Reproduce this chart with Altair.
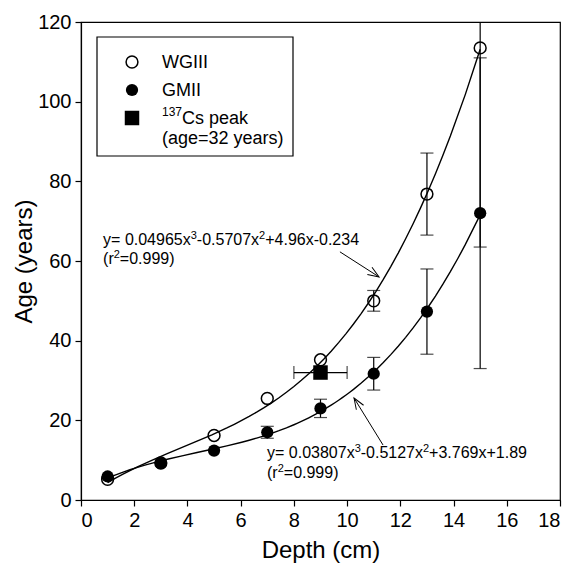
import altair as alt
import pandas as pd

# ---- data ----
depth = [1, 3, 5, 7, 9, 11, 13, 15]
wg_age = [5.2, 9.3, 16.2, 25.5, 35.2, 50.0, 76.8, 113.5]
wg_err = [0, 0, 0, 0, 0, 2.6, 10.3, 50.0]
gm_age = [5.9, 9.2, 12.4, 17.0, 23.0, 31.7, 47.3, 72.0]
gm_err = [0, 0, 0, 1.5, 2.3, 4.1, 10.7, 39.0]
cs_depth = [9]
cs_age = [32]
cs_xerr = [1.0]

# equation labels: list of (text, is_superscript) pieces, anchored at (x, y) baseline
eq_parts = [
    [("y= 0.04965x", 0), ("3", 1), ("-0.5707x", 0), ("2", 1), ("+4.96x-0.234", 0)],
    [("(r", 0), ("2", 1), ("=0.999)", 0)],
    [("y= 0.03807x", 0), ("3", 1), ("-0.5127x", 0), ("2", 1), ("+3.769x+1.89", 0)],
    [("(r", 0), ("2", 1), ("=0.999)", 0)],
]
eq_x = [0.83, 0.83, 6.99, 6.99]
eq_y = [64.0, 59.3, 10.6, 5.5]

arrow_x = [9.73, 11.35]
arrow_y = [62.3, 13.8]
arrow_x2 = [11.2, 10.26]
arrow_y2 = [56.0, 25.6]
arrow_angle = [123, 328]

legend_parts = [
    [("WGIII", 0)],
    [("GMII", 0)],
    [("137", 1), ("Cs peak", 0)],
    [("(age=32 years)", 0)],
]

FONT = "Liberation Sans"

# Arial / Liberation Sans advance widths (per 1000 em) for offsets of text pieces
AW = {" ": 278, "(": 333, ")": 333, "+": 584, "-": 333, ".": 278, "=": 584,
      "x": 500, "y": 500, "r": 333, "C": 722, "s": 500, "p": 556, "e": 556,
      "a": 556, "k": 500, "g": 556, "G": 778, "W": 944, "I": 278, "M": 833}
for d in "0123456789":
    AW[d] = 556


def text_w(s, fs):
    return sum(AW.get(c, 556) for c in s) / 1000.0 * fs


# ---- tables ----
pts = pd.DataFrame({
    "x": depth * 2,
    "y": wg_age + gm_age,
    "err": wg_err + gm_err,
    "series": ["WGIII"] * len(depth) + ["GMII"] * len(depth),
})
pts["lo"] = pts["y"] - pts["err"]
pts["hi"] = pts["y"] + pts["err"]
errs = pts[pts["err"] > 0]

cs = pd.DataFrame({"x": cs_depth, "y": cs_age, "xerr": cs_xerr})
cs["xlo"] = cs["x"] - cs["xerr"]
cs["xhi"] = cs["x"] + cs["xerr"]

arr = pd.DataFrame({"x": arrow_x, "y": arrow_y, "x2": arrow_x2, "y2": arrow_y2,
                    "angle": arrow_angle})

xscale = alt.Scale(domain=[0, 18], nice=False)
yscale = alt.Scale(domain=[0, 120], nice=False)
xaxis = alt.Axis(values=list(range(0, 19, 2)), title="Depth (cm)", grid=False,
                 tickSize=6, labelPadding=4, titlePadding=8)
yaxis = alt.Axis(values=list(range(0, 121, 20)), title="Age (years)", grid=False,
                 tickSize=6, labelPadding=4, titlePadding=1, titleFontSize=24)


def X(f="x"):
    return alt.X(f"{f}:Q", scale=xscale, axis=xaxis)


def Y(f="y"):
    return alt.Y(f"{f}:Q", scale=yscale, axis=yaxis)


base = alt.Chart(pts)

curves = base.transform_regression(
    "x", "y", method="poly", order=3, groupby=["series"], extent=[1, 15]
).mark_line(color="black", strokeWidth=1.4, clip=True).encode(
    x=X(), y=Y(), detail="series:N")

err_rule = alt.Chart(errs).mark_rule(color="black", strokeWidth=1.2, clip=True).encode(
    x=X(), y=Y("lo"), y2="hi:Q")
err_cap_lo = alt.Chart(errs).mark_tick(color="black", orient="horizontal", size=13,
                                       thickness=1.2, clip=True).encode(x=X(), y=Y("lo"))
err_cap_hi = alt.Chart(errs).mark_tick(color="black", orient="horizontal", size=13,
                                       thickness=1.2, clip=True).encode(x=X(), y=Y("hi"))

cs_rule = alt.Chart(cs).mark_rule(color="black", strokeWidth=1.2).encode(
    x=X("xlo"), x2="xhi:Q", y=Y())
cs_cap_lo = alt.Chart(cs).mark_tick(color="black", orient="vertical", size=13,
                                    thickness=1.2).encode(x=X("xlo"), y=Y())
cs_cap_hi = alt.Chart(cs).mark_tick(color="black", orient="vertical", size=13,
                                    thickness=1.2).encode(x=X("xhi"), y=Y())

open_pts = base.transform_filter(alt.datum.series == "WGIII").mark_point(
    shape="circle", filled=False, color="black", strokeWidth=1.5, size=140, opacity=1
).encode(x=X(), y=Y())
filled_pts = base.transform_filter(alt.datum.series == "GMII").mark_circle(
    color="black", size=150, opacity=1).encode(x=X(), y=Y())
cs_pt = alt.Chart(cs).mark_square(color="black", size=210, opacity=1).encode(x=X(), y=Y())

# equation text pieces
eq_layers = []
EQ_FS, EQ_SFS, EQ_RISE = 16, 11, 6
for parts, ex, ey in zip(eq_parts, eq_x, eq_y):
    off = 0.0
    row = pd.DataFrame({"x": [ex], "y": [ey]})
    for txt, sup in parts:
        fs = EQ_SFS if sup else EQ_FS
        eq_layers.append(alt.Chart(row).mark_text(
            align="left", baseline="alphabetic", font=FONT, fontSize=fs, color="black",
            text=txt, dx=off, dy=-EQ_RISE if sup else 0).encode(x=X(), y=Y()))
        off += text_w(txt, fs)

arrow_line = alt.Chart(arr).mark_rule(color="black", strokeWidth=1).encode(
    x=X(), y=Y(), x2="x2:Q", y2="y2:Q")
arrow_head = alt.Chart(arr).mark_point(
    shape="M -0.38 1 L 0 0 L 0.38 1", filled=False, color="black", strokeWidth=1,
    size=500, opacity=1).encode(x=X("x2"), y=Y("y2"), angle=alt.Angle("angle:Q", scale=None))

# ---- legend (drawn inside plot area, pixel layout) ----
one = pd.DataFrame({"a": [0]})
leg_box = alt.Chart(one).mark_rect(fill="white", stroke="black", strokeWidth=1.2).encode(
    x=alt.value(16), x2=alt.value(212), y=alt.value(15), y2=alt.value(134))
leg_open = alt.Chart(one).mark_point(shape="circle", filled=False, color="black",
                                     strokeWidth=1.5, size=140, opacity=1).encode(
    x=alt.value(51), y=alt.value(40))
leg_fill = alt.Chart(one).mark_circle(color="black", size=150, opacity=1).encode(
    x=alt.value(51), y=alt.value(68))
leg_sq = alt.Chart(one).mark_square(color="black", size=210, opacity=1).encode(
    x=alt.value(51), y=alt.value(96))
leg_t = []
LG_FS, LG_SFS, LG_RISE = 18, 12, 8
for parts, yy in zip(legend_parts, [46, 74, 102, 122]):
    off = 0.0
    for txt, sup in parts:
        fs = LG_SFS if sup else LG_FS
        leg_t.append(alt.Chart(one).mark_text(
            align="left", baseline="alphabetic", font=FONT, fontSize=fs, color="black",
            text=txt, dx=off, dy=-LG_RISE if sup else 0).encode(
            x=alt.value(81), y=alt.value(yy)))
        off += text_w(txt, fs)

chart = alt.layer(
    curves, err_rule, err_cap_lo, err_cap_hi, cs_rule, cs_cap_lo, cs_cap_hi,
    open_pts, filled_pts, cs_pt, *eq_layers, arrow_line, arrow_head,
    leg_box, leg_open, leg_fill, leg_sq, *leg_t
).properties(
    width=479, height=478, autosize="none",
    padding={"left": 73, "top": 14, "right": 6, "bottom": 70},
    background="white"
).configure_view(stroke="black", strokeWidth=1.2).configure_axis(
    domainColor="black", tickColor="black", labelColor="black", titleColor="black",
    labelFont=FONT, titleFont=FONT, labelFontSize=20, titleFontSize=24,
    titleFontWeight="normal", domainWidth=1.2, tickWidth=1.2
)

chart.save("out.html", embed_options={"renderer": "svg", "actions": False})
